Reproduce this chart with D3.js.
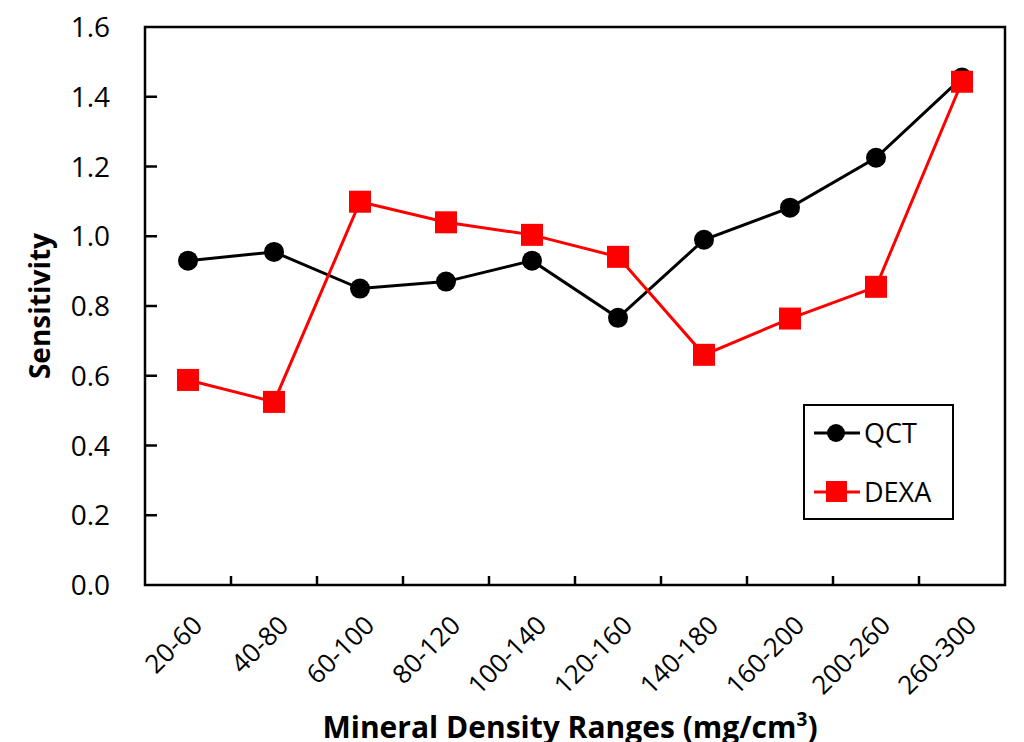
<!DOCTYPE html>
<html lang="en">
<head>
<meta charset="UTF-8">
<title>Sensitivity</title>
<script src="https://d3js.org/d3.v7.min.js"></script>
<style>
  body { margin: 0; background: #fff; }
  text { font-family: "Open Sans", "DejaVu Sans", sans-serif; }
</style>
</head>
<body>
<svg id="chart" width="1024" height="742"></svg>
<script>
var categories = ["20-60", "40-80", "60-100", "80-120", "100-140", "120-160", "140-180", "160-200", "200-260", "260-300"];
var qct = [0.93, 0.955, 0.85, 0.87, 0.93, 0.766, 0.99, 1.082, 1.225, 1.455];
var dexa = [0.588, 0.525, 1.099, 1.04, 1.004, 0.941, 0.66, 0.764, 0.855, 1.443];
var yTicks = [0, 0.2, 0.4, 0.6, 0.8, 1.0, 1.2, 1.4, 1.6];

var svg = d3.select("#chart"),
    margin = {top: 27, right: 19, bottom: 157, left: 145},
    width = 1024 - margin.left - margin.right,
    height = 742 - margin.top - margin.bottom,
    g = svg.append("g").attr("transform", "translate(" + margin.left + "," + margin.top + ")");

var x = d3.scaleBand().domain(categories).range([0, width]);
var y = d3.scaleLinear().domain([0, 1.6]).range([height, 0]);

// frame
g.append("rect")
    .attr("width", width).attr("height", height)
    .attr("fill", "none").attr("stroke", "#000").attr("stroke-width", 2.5);

// y axis ticks (inward)
g.selectAll(".ytick").data(yTicks.slice(1, -1)).enter().append("line")
    .attr("x1", 0).attr("x2", 12)
    .attr("y1", function (d) { return y(d); }).attr("y2", function (d) { return y(d); })
    .attr("stroke", "#000").attr("stroke-width", 2.5);

g.selectAll(".ylab").data(yTicks).enter().append("text")
    .attr("x", -35).attr("y", function (d) { return y(d); })
    .attr("dy", "0.36em").attr("text-anchor", "end")
    .attr("font-size", 28).attr("fill", "#000")
    .text(function (d) { return d.toFixed(1); });

// x axis ticks at band boundaries (inward)
g.selectAll(".xtick").data(categories.slice(1)).enter().append("line")
    .attr("x1", function (d) { return x(d); }).attr("x2", function (d) { return x(d); })
    .attr("y1", height).attr("y2", height - 9)
    .attr("stroke", "#000").attr("stroke-width", 2.5);

g.selectAll(".xlab").data(categories).enter().append("text")
    .attr("transform", function (d) {
        return "translate(" + (x(d) + x.bandwidth() / 2 + 16) + "," + (height + 42) + ") rotate(-45)";
    })
    .attr("text-anchor", "end")
    .attr("font-size", 26).attr("fill", "#000")
    .text(function (d) { return d; });

// axis titles
svg.append("text")
    .attr("transform", "translate(50," + (margin.top + height / 2) + ") rotate(-90)")
    .attr("text-anchor", "middle")
    .attr("font-size", 28).attr("font-weight", "bold")
    .text("Sensitivity");

var xt = svg.append("text")
    .attr("x", 570).attr("y", 738)
    .attr("text-anchor", "middle")
    .attr("font-size", 30).attr("font-weight", "bold");
xt.append("tspan").text("Mineral Density Ranges (mg/cm");
xt.append("tspan").attr("font-size", 19).attr("dy", -12).text("3");
xt.append("tspan").attr("dy", 12).text(")");

var cx = function (d, i) { return x(categories[i]) + x.bandwidth() / 2; };
var line = d3.line().x(function (d, i) { return cx(d, i); }).y(function (d) { return y(d); });

// QCT
g.append("path").datum(qct)
    .attr("fill", "none").attr("stroke", "#000").attr("stroke-width", 3)
    .attr("d", line);
g.selectAll(".qct").data(qct).enter().append("circle")
    .attr("cx", cx).attr("cy", function (d) { return y(d); })
    .attr("r", 10).attr("fill", "#000");

// DEXA
g.append("path").datum(dexa)
    .attr("fill", "none").attr("stroke", "#ff0000").attr("stroke-width", 3)
    .attr("d", line);
g.selectAll(".dexa").data(dexa).enter().append("rect")
    .attr("x", function (d, i) { return cx(d, i) - 11; })
    .attr("y", function (d) { return y(d) - 11; })
    .attr("width", 22).attr("height", 22).attr("fill", "#ff0000");

// legend
var leg = svg.append("g");
leg.append("rect")
    .attr("x", 804).attr("y", 405).attr("width", 149).attr("height", 114)
    .attr("fill", "#fff").attr("stroke", "#000").attr("stroke-width", 2);
var items = [{name: "QCT", color: "#000", shape: "circle"}, {name: "DEXA", color: "#ff0000", shape: "square"}];
items.forEach(function (it, i) {
    var yy = 433 + i * 59;
    leg.append("line").attr("x1", 814).attr("x2", 860).attr("y1", yy).attr("y2", yy)
        .attr("stroke", it.color).attr("stroke-width", 3);
    if (it.shape === "circle") {
        leg.append("circle").attr("cx", 836).attr("cy", yy).attr("r", 9).attr("fill", it.color);
    } else {
        leg.append("rect").attr("x", 826).attr("y", yy - 11).attr("width", 21).attr("height", 21).attr("fill", it.color);
    }
    leg.append("text").attr("x", 864).attr("y", yy).attr("dy", "0.36em")
        .attr("font-size", 27).attr("fill", "#000").text(it.name);
});
</script>
</body>
</html>
